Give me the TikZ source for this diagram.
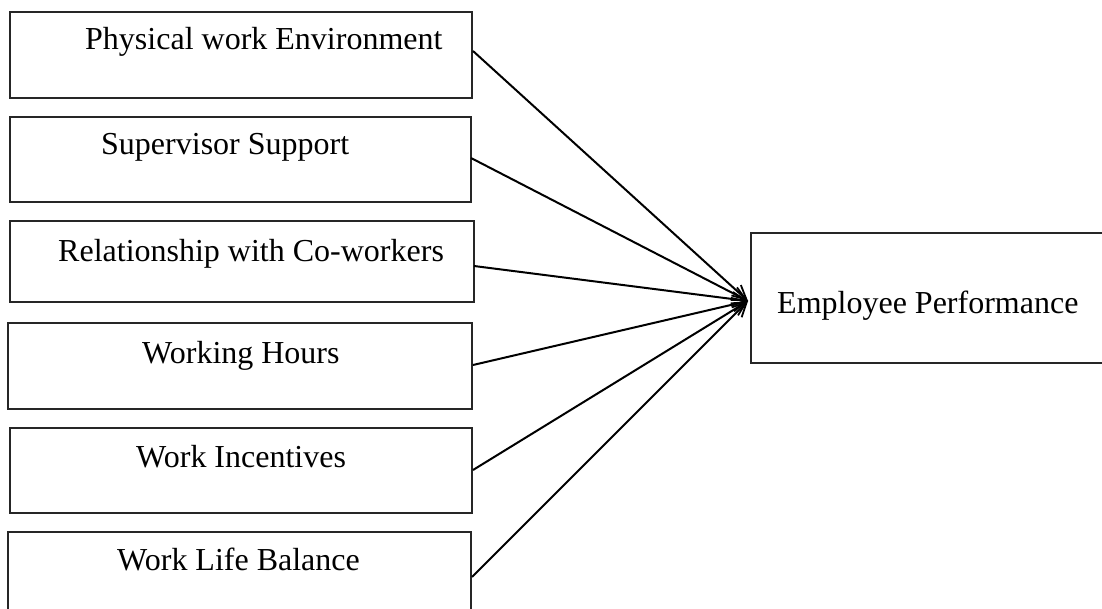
\documentclass[tikz,border=0pt]{standalone}
\usepackage{fontspec}
\setmainfont{Liberation Serif}
\usetikzlibrary{arrows.meta}
\begin{document}
\begin{tikzpicture}[x=1pt,y=-1pt,
  box/.style={draw=black!85, line width=1.6pt, inner sep=0pt, anchor=north west, minimum width=462pt},
  lbl/.style={inner sep=0pt, anchor=base west, font=\fontsize{32}{38}\selectfont},
  arr/.style={line width=2pt, -{Straight Barb[length=14pt,width=14pt,line width=1.8pt]}}]
\useasboundingbox (0,0) rectangle (1102,609);
\clip (0,0) rectangle (1102,609);
\node[box, minimum height=86pt] (b1) at (9,11) {};
\node[box, minimum height=85pt, minimum width=461pt] (b2) at (9,116) {};
\node[box, minimum height=81pt, minimum width=464pt] (b3) at (9,220) {};
\node[box, minimum height=86pt, minimum width=464pt] (b4) at (7,322) {};
\node[box, minimum height=85pt] (b5) at (9,427) {};
\node[box, minimum height=86pt, minimum width=463pt] (b6) at (7,531) {};
\node[box, minimum height=130pt, minimum width=365pt] (ep) at (750,232) {};
\node[lbl] (t1) at (85,50) {Physical work Environment};
\node[lbl] (t2) at (101,155) {Supervisor Support};
\node[lbl] (t3) at (58,262) {Relationship with Co-workers};
\node[lbl] (t4) at (142,363) {Working Hours};
\node[lbl] (t5) at (136,467) {Work Incentives};
\node[lbl] (t6) at (117,570) {Work Life Balance};
\node[lbl] (te) at (777,313) {Employee Performance};
\coordinate (tip) at (748,301);
\coordinate (s1) at (473,51);
\coordinate (s2) at (471,158);
\coordinate (s3) at (474,266);
\coordinate (s4) at (473,365);
\coordinate (s5) at (473,470);
\coordinate (s6) at (472,577);
\foreach \s in {s1,s2,s3,s4,s5,s6} \draw[arr] (\s) -- (tip);
\end{tikzpicture}
\end{document}
